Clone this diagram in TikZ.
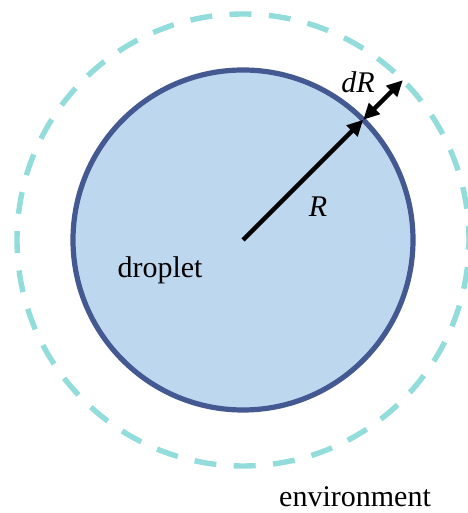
\documentclass[tikz,border=0pt]{standalone}
\usepackage{fontspec}
\setmainfont{Liberation Serif}
\usetikzlibrary{arrows.meta,calc}

\definecolor{dropfill}{RGB}{189,215,238}
\definecolor{dropline}{RGB}{68,88,146}
\definecolor{envline}{RGB}{146,221,219}

\tikzset{
  lbl/.style={font=\fontsize{15}{18}\selectfont, inner sep=0pt},
  radarrow/.style={line width=2.2pt, -{Triangle[length=8pt,width=7.5pt]}},
}

\begin{document}
\begin{tikzpicture}[x=0.5pt, y=0.5pt]
  \useasboundingbox (0,0) rectangle (467,513);
  \coordinate (c) at (243,273);
  % droplet and the shell around it
  \draw[envline, line width=2.7pt, dash pattern=on 11pt off 8.7pt, dash phase=4pt] (c) circle (226);
  \draw[dropline, fill=dropfill, line width=2.6pt] (c) circle (170);
  \coordinate (edge) at ($(c)+(45:170)$);
  \coordinate (outer) at ($(c)+(45:226)$);
  \draw[radarrow] (c) -- (edge);
  \draw[line width=2.2pt, {Triangle[length=8pt,width=7.5pt]}-{Triangle[length=8pt,width=7.5pt]}] (edge) -- (outer);
  \node[lbl] (rlab) at (318,306) {\textit{R}};
  \node[lbl] (drlab) at (358,431) {\textit{dR}};
  \node[lbl] (droplet) at (160,243) {droplet};
  \node[lbl] (env) at (355,16) {environment};
\end{tikzpicture}
\end{document}
